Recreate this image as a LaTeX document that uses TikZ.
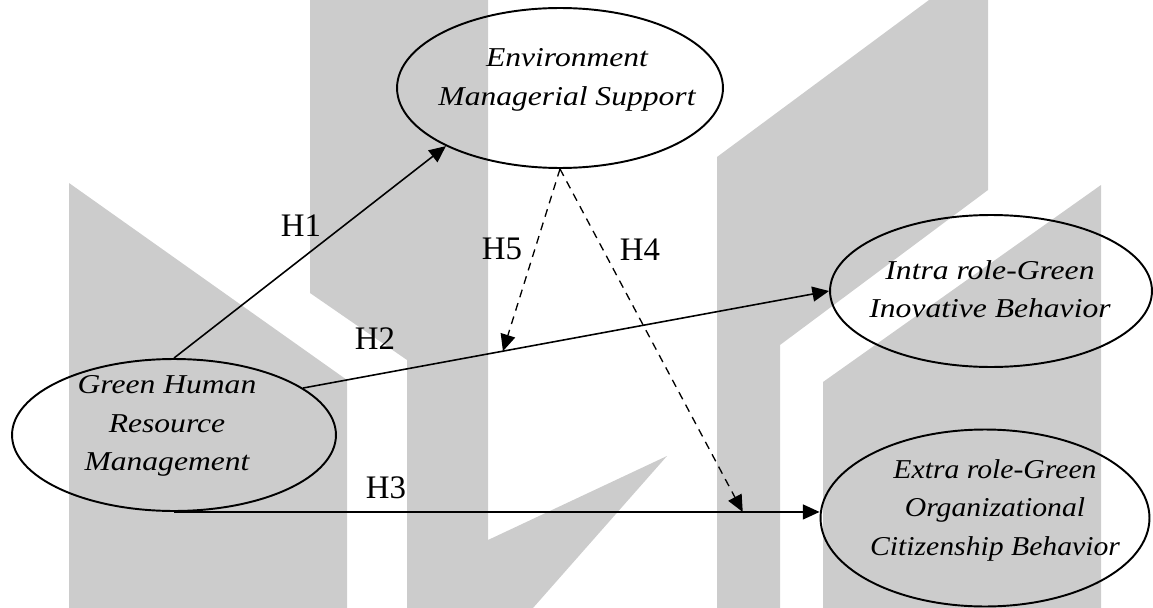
\documentclass[tikz,border=0pt]{standalone}
\usepackage{fontspec}
\setmainfont{Liberation Serif}
\newfontfamily\widefont[FakeStretch=1.16]{Liberation Serif}
\newfontfamily\midfont[FakeStretch=1.09]{Liberation Serif}
\usetikzlibrary{arrows.meta,calc,shapes.geometric}
\definecolor{wmgray}{RGB}{204,204,204}

\begin{document}
\begin{tikzpicture}[x=0.02cm, y=-0.02cm, >={Triangle[length=9.5pt,width=8.5pt]},
  construct/.style={draw, ellipse, line width=1.1pt, inner sep=0pt},
  ctext/.style={font=\widefont\itshape\fontsize{15.5}{21.9}\selectfont, align=center, inner sep=0pt},
  hyp/.style={font=\fontsize{18.7}{22}\selectfont, inner sep=0pt},
  link/.style={->, line width=0.9pt},
  modlink/.style={->, line width=0.75pt, dash pattern=on 4.5pt off 3.5pt}]
\useasboundingbox (0,0) rectangle (1153,608);

% watermark in the background
\fill[wmgray] (69,608) -- (69,183) -- (347,380) -- (347,608) -- cycle;
\fill[wmgray] (310,0) -- (488,0) -- (488,540) -- (667,456) -- (533,608) -- (407,608) -- (407,360) -- (310,293) -- cycle;
\fill[wmgray] (717,608) -- (717,157) -- (929,0) -- (988,0) -- (988,190) -- (780,345) -- (780,608) -- cycle;
\fill[wmgray] (823,608) -- (823,382) -- (1101,185) -- (1101,608) -- cycle;

% constructs
\node[construct, minimum width=6.52cm, minimum height=3.2cm] (ems) at (560,88) {};
\node[construct, minimum width=6.48cm, minimum height=3.04cm] (ghrm) at (174,435) {};
\node[construct, minimum width=6.44cm, minimum height=3.04cm] (irgib) at (991,291) {};
\node[construct, minimum width=6.58cm, minimum height=3.54cm] (ergocb) at (985,518) {};

\node[ctext] (ems-t) at ($(ems)+(7,-8)$) {Environment\\Managerial Support};
\node[ctext] (ghrm-t) at ($(ghrm)+(-7,-9)$) {Green Human\\Resource\\Management};
\node[ctext] (irgib-t) at ($(irgib)+(-1,-2)$) {Intra role-Green\\Inovative Behavior};
\node[ctext, font=\midfont\itshape\fontsize{15.5}{21.9}\selectfont] (ergocb-t) at ($(ergocb)+(10,-8)$)
  {Extra role-Green\\Organizational\\Citizenship Behavior};

% paths
\coordinate (h3end) at (ghrm.south -| ergocb.west);
\coordinate (m5) at ($(ghrm.20)!0.38!(irgib.west)$);
\coordinate (m4) at ($(ghrm.south)!0.881!(h3end)$);

\draw[link] (ghrm.north) -- (ems.207);
\draw[link] (ghrm.20) -- (irgib.west);
\draw[link] (ghrm.south) -- (h3end);
\draw[modlink] (ems.south) -- (m5);
\draw[modlink] (ems.south) -- (m4);

\node[hyp] (h1) at (301,226) {H1};
\node[hyp] (h2) at (375,339) {H2};
\node[hyp] (h3) at (386,488) {H3};
\node[hyp] (h4) at (640,250) {H4};
\node[hyp] (h5) at (502,249) {H5};
\end{tikzpicture}
\end{document}
